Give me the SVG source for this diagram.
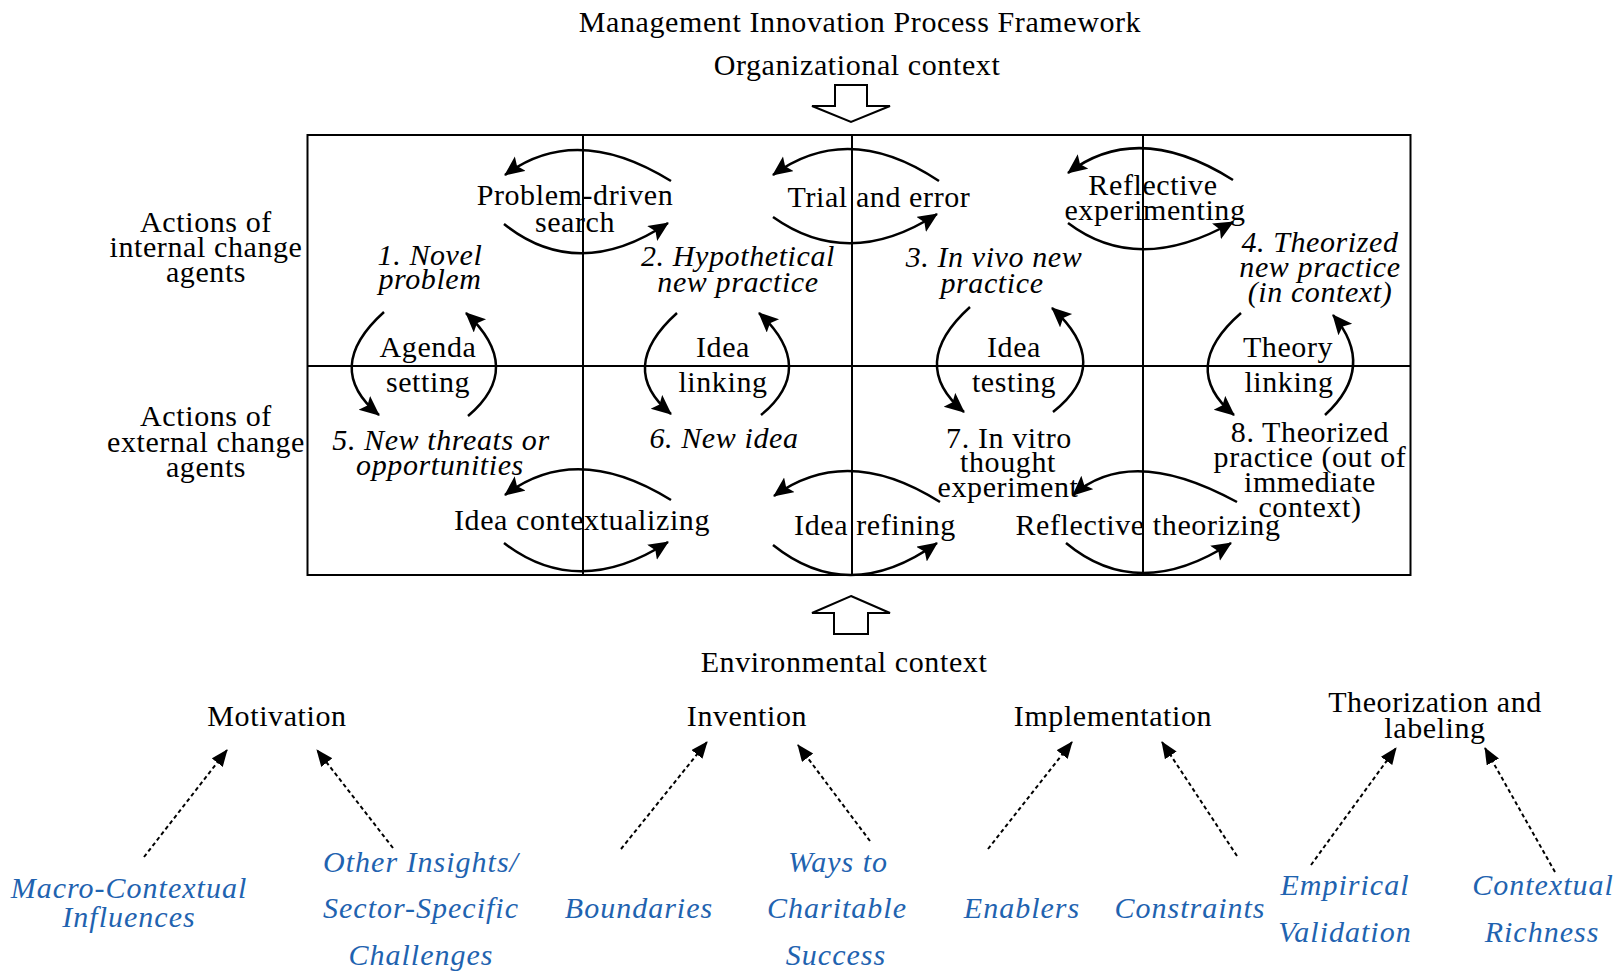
<svg xmlns="http://www.w3.org/2000/svg" width="1618" height="972" viewBox="0 0 1618 972">
<defs>
<marker id="ah" markerUnits="userSpaceOnUse" markerWidth="24" markerHeight="20" refX="19" refY="9" orient="auto">
<path d="M0,0 L20,9 L0,18 L4,9 Z" fill="#000"/>
</marker>
<marker id="dh" markerUnits="userSpaceOnUse" markerWidth="20" markerHeight="16" refX="16" refY="7" orient="auto">
<path d="M0,0 L17,7 L0,14 Z" fill="#000"/>
</marker>
<style>
text{font-family:"Liberation Serif","Times New Roman",serif;font-size:30px;fill:#000;text-anchor:middle;letter-spacing:0.6px}
.it{font-style:italic}
.blue{font-style:italic;fill:#1f63b0;letter-spacing:1px}
.frame{fill:none;stroke:#000;stroke-width:2}
.arc{fill:none;stroke:#000;stroke-width:2.5;marker-end:url(#ah)}
.dot{fill:none;stroke:#000;stroke-width:2;stroke-dasharray:4 3;marker-end:url(#dh)}
.block{fill:#fff;stroke:#000;stroke-width:2}
</style>
</defs>
<rect width="1618" height="972" fill="#fff"/>

<g id="title">
<text x="860" y="32">Management Innovation Process Framework</text>
</g>
<g id="org-context">
<text x="857" y="75">Organizational context</text>
<polygon class="block" points="835,85 867,85 867,106 890,106 851,122 812,106 835,106"/>
</g>

<g id="grid">
<rect class="frame" x="307.5" y="135" width="1103" height="440"/>
<line class="frame" x1="583" y1="135" x2="583" y2="575"/>
<line class="frame" x1="852" y1="135" x2="852" y2="575"/>
<line class="frame" x1="1143" y1="135" x2="1143" y2="575"/>
<line class="frame" x1="307.5" y1="366" x2="1410.5" y2="366"/>
</g>

<g id="row-internal">
<text x="206" y="232">Actions of</text>
<text x="206" y="257">internal change</text>
<text x="206" y="282">agents</text>
</g>
<g id="row-external">
<text x="206" y="426">Actions of</text>
<text x="206" y="452">external change</text>
<text x="206" y="477">agents</text>
</g>

<g id="node1"><text class="it" x="430" y="265">1. Novel</text><text class="it" x="430" y="289">problem</text></g>
<g id="node2"><text class="it" x="738" y="266">2. Hypothetical</text><text class="it" x="738" y="292">new practice</text></g>
<g id="node3"><text class="it" x="994" y="267">3. In vivo new</text><text class="it" x="992" y="293">practice</text></g>
<g id="node4"><text class="it" x="1320" y="252">4. Theorized</text><text class="it" x="1320" y="277">new practice</text><text class="it" x="1320" y="302">(in context)</text></g>
<g id="node5"><text class="it" x="441" y="450">5. New threats or</text><text class="it" x="440" y="475">opportunities</text></g>
<g id="node6"><text class="it" x="724" y="448">6. New idea</text></g>
<g id="node7"><text x="1009" y="448">7. In vitro</text><text x="1008" y="472">thought</text><text x="1008" y="497">experiment</text></g>
<g id="node8"><text x="1310" y="442">8. Theorized</text><text x="1310" y="467">practice (out of</text><text x="1310" y="492">immediate</text><text x="1310" y="517">context)</text></g>

<g id="labels">
<text x="575" y="205">Problem-driven</text>
<text x="575" y="232">search</text>
<text x="879" y="207">Trial and error</text>
<text x="1153" y="195">Reflective</text>
<text x="1155" y="220">experimenting</text>
<text x="428" y="357">Agenda</text>
<text x="428" y="392">setting</text>
<text x="723" y="357">Idea</text>
<text x="723" y="392">linking</text>
<text x="1014" y="357">Idea</text>
<text x="1014" y="392">testing</text>
<text x="1288" y="357">Theory</text>
<text x="1289" y="392">linking</text>
<text x="582" y="530">Idea contextualizing</text>
<text x="875" y="535">Idea refining</text>
<text x="1148" y="535">Reflective theorizing</text>
</g>

<g id="connectors">
<path class="arc" d="M671,181 Q576,122 505,175"/>
<path class="arc" d="M504,224 Q578,283 668,223"/>
<path class="arc" d="M939,181 Q848,120 773,175"/>
<path class="arc" d="M773,217 Q849,271 937,214"/>
<path class="arc" d="M1233,180 Q1138,120 1068,173"/>
<path class="arc" d="M1068,223 Q1138,276 1233,222"/>
<path class="arc" d="M671,500 Q576,441 505,495"/>
<path class="arc" d="M504,543 Q578,600 668,542"/>
<path class="arc" d="M940,502 Q847,443 774,496"/>
<path class="arc" d="M773,545 Q849,606 937,543"/>
<path class="arc" d="M1237,502 Q1131,444 1073,495"/>
<path class="arc" d="M1066,543 Q1138,603 1231,543"/>
<path class="arc" d="M384,312 Q322,368 379,415"/>
<path class="arc" d="M468,416 Q525,368 466,313"/>
<path class="arc" d="M677,313 Q616,368 671,414"/>
<path class="arc" d="M761,415 Q818,368 759,313"/>
<path class="arc" d="M970,307 Q907,364 964,412"/>
<path class="arc" d="M1053,412 Q1114,364 1052,308"/>
<path class="arc" d="M1241,313 Q1178,368 1234,415"/>
<path class="arc" d="M1325,415 Q1377,367 1333,315"/>
<path class="dot" d="M144,857 L227,750"/>
<path class="dot" d="M393,848 L317,750"/>
<path class="dot" d="M621,849 L707,742"/>
<path class="dot" d="M870,841 L798,745"/>
<path class="dot" d="M988,849 L1072,742"/>
<path class="dot" d="M1237,856 L1162,742"/>
<path class="dot" d="M1311,865 L1396,748"/>
<path class="dot" d="M1555,872 L1485,748"/>
</g>

<g id="env-context">
<polygon class="block" points="851,596 890,613 868,613 868,634 834,634 834,613 812,613"/>
<text x="844" y="672">Environmental context</text>
</g>

<g id="stage-motivation"><text x="277" y="726">Motivation</text></g>
<g id="stage-invention"><text x="747" y="726">Invention</text></g>
<g id="stage-implementation"><text x="1113" y="726">Implementation</text></g>
<g id="stage-theorization"><text x="1435" y="712">Theorization and</text><text x="1435" y="738">labeling</text></g>

<g id="factor-macro"><text class="blue" x="129" y="898">Macro-Contextual</text><text class="blue" x="129" y="927">Influences</text></g>
<g id="factor-other"><text class="blue" x="421" y="872">Other Insights/</text><text class="blue" x="421" y="918">Sector-Specific</text><text class="blue" x="421" y="965">Challenges</text></g>
<g id="factor-boundaries"><text class="blue" x="639" y="918">Boundaries</text></g>
<g id="factor-ways"><text class="blue" x="838" y="872">Ways to</text><text class="blue" x="837" y="918">Charitable</text><text class="blue" x="836" y="965">Success</text></g>
<g id="factor-enablers"><text class="blue" x="1022" y="918">Enablers</text></g>
<g id="factor-constraints"><text class="blue" x="1190" y="918">Constraints</text></g>
<g id="factor-empirical"><text class="blue" x="1345" y="895">Empirical</text><text class="blue" x="1345" y="942">Validation</text></g>
<g id="factor-contextual"><text class="blue" x="1543" y="895">Contextual</text><text class="blue" x="1542" y="942">Richness</text></g>
</svg>
